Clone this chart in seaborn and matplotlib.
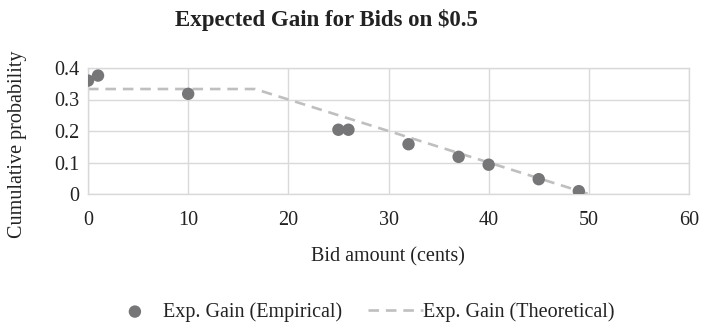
import matplotlib
matplotlib.use("Agg")
import matplotlib.pyplot as plt
import seaborn as sns
import pandas as pd

# Empirical expected gain per bid
bid_cents = [0, 1, 10, 25, 26, 32, 37, 40, 45, 49]
gain_empirical = [0.360, 0.376, 0.318, 0.204, 0.204, 0.158, 0.118, 0.093, 0.047, 0.009]

# Theoretical expected gain (piecewise-linear vertices)
theory_bid = [0, 16.67, 50]
theory_gain = [0.3333, 0.3333, 0.0]

x_ticks = [0, 10, 20, 30, 40, 50, 60]
y_ticks = [0, 0.1, 0.2, 0.3, 0.4]
y_tick_labels = ["0", "0.1", "0.2", "0.3", "0.4"]

FS = 14.5
TEXT = "#222222"

sns.set_theme(style="whitegrid")
plt.rcParams["font.family"] = ["Liberation Serif", "DejaVu Serif"]
plt.rcParams["font.size"] = FS

emp = pd.DataFrame({"bid": bid_cents, "gain": gain_empirical})
theo = pd.DataFrame({"bid": theory_bid, "gain": theory_gain})

fig = plt.figure(figsize=(7.02, 3.27), dpi=100)
ax = fig.add_axes([88 / 702, 1 - 194 / 327, (689 - 88) / 702, (194 - 68) / 327])

sns.lineplot(data=theo, x="bid", y="gain", ax=ax, color="#bfbfbf", linewidth=1.9,
             linestyle=(0, (4, 2.6)), label="Exp. Gain (Theoretical)", zorder=2)
sns.scatterplot(data=emp, x="bid", y="gain", ax=ax, color="#767678", s=80,
                edgecolor="none", label="Exp. Gain (Empirical)", zorder=3)

ax.set_xlim(0, 60)
ax.set_ylim(0, 0.4)
ax.set_xticks(x_ticks)
ax.set_yticks(y_ticks)
ax.set_yticklabels(y_tick_labels)
ax.tick_params(axis="y", labelsize=FS, colors=TEXT, length=0, pad=6)
ax.tick_params(axis="x", labelsize=FS, colors=TEXT, length=0, pad=12)
ax.grid(True, color="#d9d9d9", linewidth=1.0)
for s in ax.spines.values():
    s.set_visible(True)
    s.set_color("#d9d9d9")
    s.set_linewidth(1.0)

ax.set_xlabel("")
ax.set_ylabel("")
fig.text(388 / 702, 1 - 257 / 327, "Bid amount (cents)", ha="center", va="center",
         fontsize=FS, color=TEXT)
fig.text(18 / 702, 1 - 144 / 327, "Cumulative probability", rotation=90,
         ha="center", va="center", fontsize=FS, color=TEXT)
fig.text(326 / 702, 1 - 20 / 327, "Expected Gain for Bids on $0.5", ha="center",
         va="center", fontsize=16.5, fontweight="bold", color=TEXT)

handles, labels = ax.get_legend_handles_labels()
ax.legend_.remove()
order = [labels.index("Exp. Gain (Empirical)"), labels.index("Exp. Gain (Theoretical)")]
fig.legend([handles[i] for i in order], [labels[i] for i in order],
           loc="center", bbox_to_anchor=(361 / 702, 1 - 312 / 327), ncol=2,
           frameon=False, fontsize=FS, handlelength=2.75, handletextpad=0.0,
           columnspacing=1.3, labelcolor=TEXT, borderpad=0.0)

fig.savefig("out.png", dpi=100, facecolor="white")
